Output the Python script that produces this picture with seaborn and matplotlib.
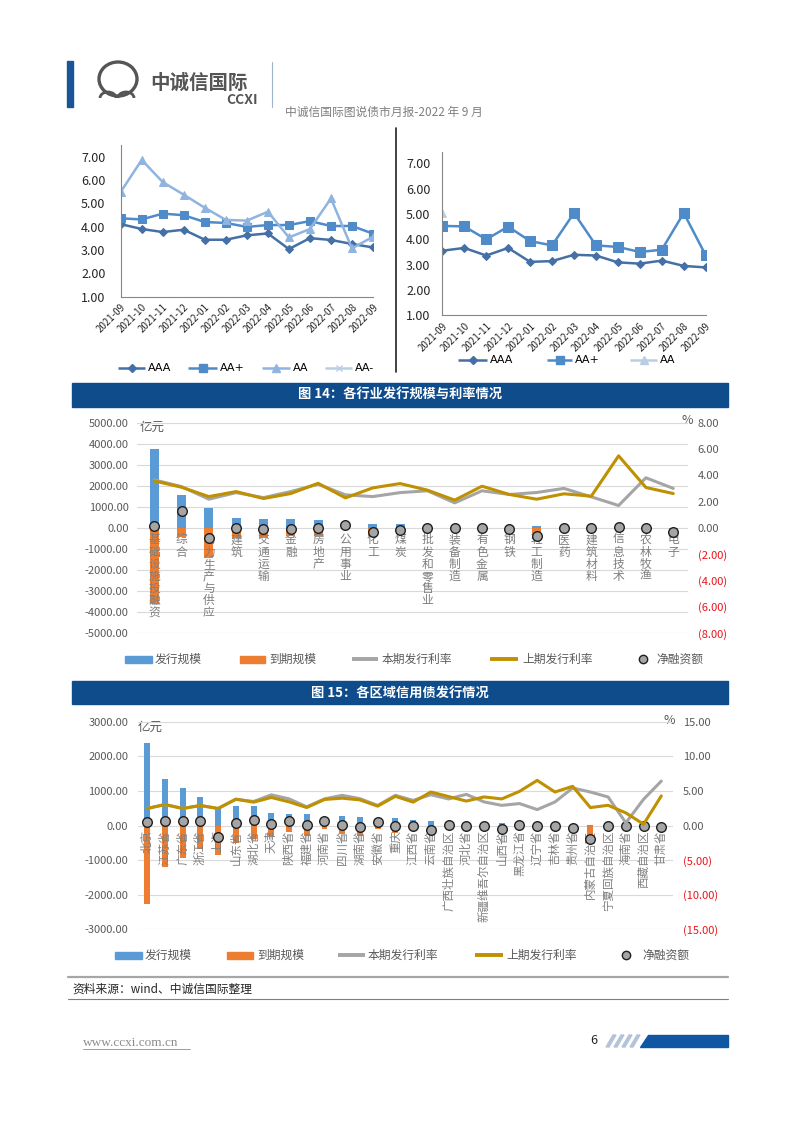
import numpy as np
import pandas as pd
import matplotlib
matplotlib.use("Agg")
import matplotlib.pyplot as plt
import matplotlib.transforms as mtransforms
from matplotlib.patches import Rectangle, Polygon, Ellipse, Arc
import seaborn as sns

sns.set_style("white")
plt.rcParams['font.family'] = ['Noto Sans CJK SC', 'DejaVu Sans']
plt.rcParams['axes.unicode_minus'] = False

# ---------------- data ----------------
months = ['2021-09', '2021-10', '2021-11', '2021-12', '2022-01', '2022-02', '2022-03',
          '2022-04', '2022-05', '2022-06', '2022-07', '2022-08', '2022-09']

# top-left chart
tl_aaa = [4.11, 3.90, 3.77, 3.87, 3.44, 3.44, 3.63, 3.71, 3.04, 3.51, 3.43, 3.26, 3.11]
tl_aap = [4.36, 4.31, 4.56, 4.49, 4.20, 4.16, 3.99, 4.07, 4.07, 4.24, 4.03, 4.03, 3.70]
tl_aa = [5.49, 6.86, 5.91, 5.37, 4.81, 4.29, 4.26, 4.64, 3.54, 3.90, 5.21, 3.07, 3.57]

# top-right chart
tr_aaa = [3.55, 3.66, 3.36, 3.66, 3.11, 3.14, 3.39, 3.36, 3.09, 3.04, 3.16, 2.95, 2.89]
tr_aap = [4.53, 4.51, 4.00, 4.50, 3.93, 3.76, 5.04, 3.76, 3.70, 3.50, 3.59, 5.04, 3.37]
tr_aa = [5.03] + [np.nan] * 12

# 图14
ind_names = ['基础设施投融资', '综合', '电力生产与供应', '建筑', '交通运输', '金融', '房地产',
             '公用事业', '化工', '煤炭', '批发和零售业', '装备制造', '有色金属', '钢铁',
             '轻工制造', '医药', '建筑材料', '信息技术', '农林牧渔', '电子']
ind_issue = [3750, 1540, 950, 460, 430, 400, 370, 200, 180, 170, 20, 20, 30, 40, 80, 20, 20, 20, 10, 10]
ind_mature = [-3640, -420, -1430, -480, -480, -400, -370, -50, -370, -270, -30, 0, -60, -90,
              -450, -50, -10, 0, -20, -200]
ind_net = [110, 810, -460, 0, -60, -60, -20, 150, -190, -100, -15, 15, -30, -50, -365, -30,
           15, 50, -15, -190]
ind_rate_now = [3.65, 3.14, 2.18, 2.68, 2.30, 2.76, 3.32, 2.51, 2.38, 2.68, 2.82, 1.90, 2.82,
                2.54, 2.69, 3.00, 2.36, 1.70, 3.81, 3.00]
ind_rate_prev = [3.57, 3.09, 2.38, 2.76, 2.23, 2.61, 3.39, 2.28, 3.04, 3.37, 2.87, 2.11, 3.17,
                 2.54, 2.18, 2.59, 2.41, 5.48, 3.07, 2.61]

# 图15
reg_names = ['北京', '江苏省', '广东省', '浙江省', '上海', '山东省', '湖北省', '天津', '陕西省',
             '福建省', '河南省', '四川省', '湖南省', '安徽省', '重庆', '江西省', '云南省',
             '广西壮族自治区', '河北省', '新疆维吾尔自治区', '山西省', '黑龙江省', '辽宁省',
             '吉林省', '贵州省', '内蒙古自治区', '宁夏回族自治区', '海南省', '西藏自治区', '甘肃省']
reg_issue = [2390, 1330, 1070, 810, 520, 560, 560, 350, 320, 320, 250, 270, 250, 200, 230, 170,
             130, 30, 20, 20, 60, 20, 10, 10, 10, 10, 0, 0, 0, 0]
reg_mature = [-2280, -1195, -935, -675, -850, -500, -390, -310, -185, -300, -115, -260, -300,
              -110, -230, -170, -260, -10, -40, -20, -160, -10, -30, -30, -80, -410, 0, 0, 0, -50]
reg_net = [110, 135, 135, 135, -330, 60, 170, 40, 135, 20, 135, 10, -50, 90, 0, 0, -130, 20,
           -20, 0, -100, 10, -20, -20, -70, -400, 0, 0, 0, -50]
reg_rate_now = [2.46, 3.03, 2.46, 2.89, 2.46, 3.80, 3.47, 4.43, 3.85, 2.70, 3.85, 4.36, 3.88,
                2.90, 4.36, 3.63, 4.45, 3.84, 4.50, 3.41, 2.91, 3.17, 2.30, 3.40, 5.42, 4.84,
                4.12, 0.38, 3.79, 6.42]
reg_rate_prev = [2.46, 3.03, 2.46, 2.89, 2.46, 3.80, 3.37, 4.05, 3.42, 2.60, 3.76, 3.95, 3.70,
                 2.80, 4.22, 3.38, 4.84, 4.18, 3.53, 4.13, 3.84, 4.93, 6.52, 4.84, 5.66, 2.59,
                 2.92, 1.82, 0.19, 4.27]

# ---------------- colours ----------------
C_AAA, C_AAP, C_AA, C_AAM = '#4470a6', '#4f8ac9', '#8fb4e0', '#b9cde5'
C_BLUE, C_ORANGE, C_GRAY, C_GOLD = '#5b9bd5', '#ed7d31', '#a5a5a5', '#bf9000'
C_TICK = '#595959'
NAVY = '#0f4c8c'

W, H = 802, 1133
fig = plt.figure(figsize=(W / 100, H / 100), dpi=100)
fig.patch.set_facecolor('white')


def px_axes(x0, y0, x1, y1):
    a = fig.add_axes([x0 / W, 1 - y1 / H, (x1 - x0) / W, (y1 - y0) / H])
    a.set_facecolor('none')
    return a


# page layer for decoration
page = fig.add_axes([0, 0, 1, 1])
page.set_xlim(0, W)
page.set_ylim(H, 0)
page.axis('off')

# header
page.add_patch(Rectangle((67, 61), 6, 46, color='#1b5496'))
page.add_patch(Ellipse((118, 79), 38, 34, fill=False, ec='#555555', lw=2.4))
page.add_patch(Arc((108, 98), 16, 12, theta1=180, theta2=360, ec='#555555', lw=2))
page.add_patch(Arc((126, 98), 16, 12, theta1=180, theta2=360, ec='#555555', lw=2))
page.text(150, 83, '中诚信国际', fontsize=14, color='#555555', va='center', fontweight='bold')
page.text(258, 100, 'CCXI', fontsize=10, color='#555555', va='center', ha='right',
          fontweight='bold')
page.plot([272, 272], [62, 107], color='#9fb4cc', lw=0.8)
page.text(285, 112, '中诚信国际图说债市月报-2022 年 9 月', fontsize=8.5, color='#7f7f7f',
          va='center')

# divider between top charts
page.plot([396, 396], [128, 372], color='#222222', lw=1.2)


def top_chart(ax, series, ytop, pad):
    for vals, col, mk, ms in series:
        sns.lineplot(x=np.arange(13), y=vals, ax=ax, color=col, marker=mk, markersize=ms,
                     markeredgecolor=col, linewidth=1.8, legend=False)
    ax.set_xlim(0, 12)
    ax.set_ylim(1, ytop)
    ax.set_yticks(range(1, 8))
    ax.set_yticklabels([f'{v:.2f}' for v in range(1, 8)], fontsize=9)
    ax.set_xticks(range(13))
    ax.set_xticklabels(months, rotation=45, ha='right', va='top', rotation_mode='anchor',
                       fontsize=7)
    ax.tick_params(axis='y', length=0, pad=pad)
    ax.tick_params(axis='x', length=3, color='#868686', pad=1)
    for s in ['top', 'right']:
        ax.spines[s].set_visible(False)
    for s in ['left', 'bottom']:
        ax.spines[s].set_color('#868686')
        ax.spines[s].set_linewidth(0.8)
    ax.set_xlabel('')
    ax.set_ylabel('')


ax_tl = px_axes(120.7, 145, 373, 296.7)
top_chart(ax_tl, [(tl_aaa, C_AAA, 'D', 4.5), (tl_aap, C_AAP, 's', 6), (tl_aa, C_AA, '^', 6)],
          7.5, 11)

ax_tr = px_axes(442.3, 151.7, 705.7, 315.3)
top_chart(ax_tr, [(tr_aaa, C_AAA, 'D', 4.5), (tr_aap, C_AAP, 's', 6.5), (tr_aa, C_AAM, '^', 6)],
          7.46, 8.5)


def legend_line(x0, x1, y, col, mk, ms, label, lw=1.8, fs=8):
    page.plot([x0, x1], [y, y], color=col, lw=lw, solid_capstyle='butt')
    if mk:
        page.plot([(x0 + x1) / 2], [y], marker=mk, color=col, markersize=ms, mec=col)
    page.text(x1 + 3, y, label, fontsize=fs, va='center', color='#000000',
              family=['DejaVu Sans'])


legend_line(118, 145, 368, C_AAA, 'D', 4.5, 'AAA')
legend_line(188, 217, 368, C_AAP, 's', 6, 'AA+')
legend_line(262, 290, 368, C_AA, '^', 6, 'AA')
legend_line(325, 352, 368, C_AAM, 'x', 5, 'AA-')

legend_line(458, 487, 360, C_AAA, 'D', 4.5, 'AAA')
legend_line(547, 572, 360, C_AAP, 's', 6, 'AA+')
legend_line(630, 657, 360, C_AAM, '^', 6, 'AA')


def section_bar(y0, y1, title):
    page.add_patch(Rectangle((72, y0), 656, y1 - y0, color=NAVY))
    page.text(400, (y0 + y1) / 2, title, color='white', fontsize=9.5, fontweight='bold',
              ha='center', va='center')


def combo_chart(box, names, issue, mature, net, now, prev, lim, rlim, step, rstep,
                lpad, rpad, label_mode):
    ax = px_axes(*box)
    n = len(names)
    x = np.arange(n)
    sns.barplot(x=x, y=issue, native_scale=True, width=0.33, color=C_BLUE, saturation=1,
                linewidth=0, errorbar=None, ax=ax)
    sns.barplot(x=x, y=mature, native_scale=True, width=0.33, color=C_ORANGE, saturation=1,
                linewidth=0, errorbar=None, ax=ax)
    sns.scatterplot(x=x, y=net, ax=ax, s=48, color=C_GRAY, edgecolor='#1f1f1f',
                    linewidth=1.0, zorder=6, legend=False)
    ax.set_ylim(-lim, lim)
    ticks = np.arange(-lim, lim + 1, step)
    ax.set_yticks(ticks)
    ax.set_yticklabels([f'{t:.2f}' for t in ticks], fontsize=8, color=C_TICK)
    ax.tick_params(axis='y', length=0, pad=lpad)
    ax.set_xticks([])
    ax.grid(axis='y', color='#d9d9d9', lw=0.8)
    ax.set_axisbelow(True)
    for s in ax.spines.values():
        s.set_visible(False)
    ax.set_xlabel('')
    ax.set_ylabel('')

    rx = ax.twinx()
    rx.set_facecolor('none')
    sns.lineplot(x=x, y=now, ax=rx, color=C_GRAY, linewidth=2.2, legend=False)
    sns.lineplot(x=x, y=prev, ax=rx, color=C_GOLD, linewidth=2.2, legend=False)
    rx.set_ylim(-rlim, rlim)
    rt = np.arange(-rlim, rlim + 0.01, rstep)
    rx.set_yticks(rt)
    rx.set_yticklabels([f'{t:.2f}' if t >= 0 else f'({-t:.2f})' for t in rt], fontsize=8)
    for lab, t in zip(rx.get_yticklabels(), rt):
        lab.set_color('#e8141b' if t < 0 else C_TICK)
    rx.tick_params(axis='y', length=0, pad=rpad)
    for s in rx.spines.values():
        s.set_visible(False)
    rx.set_ylabel('')

    # category labels
    for i, name in enumerate(names):
        if label_mode == 'stack':
            for j, ch in enumerate(name):
                tr = mtransforms.offset_copy(ax.transData, fig=fig, x=0,
                                             y=-(8.6 + j * 8.8), units='points')
                ax.text(i, 0, ch, transform=tr, ha='center', va='center', fontsize=8.5,
                        color='#7f7f7f', zorder=5)
        else:
            tr = mtransforms.offset_copy(ax.transData, fig=fig, x=0, y=-3.5, units='points')
            ax.text(i, 0, name, transform=tr, rotation=90, ha='center', va='top',
                    fontsize=8.3, color='#7f7f7f', zorder=5)
    return ax, rx


section_bar(383, 407, '图 14：各行业发行规模与利率情况')
ax14, rx14 = combo_chart((137, 422.7, 688, 633), ind_names, ind_issue, ind_mature, ind_net,
                         ind_rate_now, ind_rate_prev, 5000, 8, 1000, 2, 6, 7, 'stack')
ax14.set_xlim(-0.63, 19.54)
page.text(140, 427, '亿元', fontsize=9, color=C_TICK, va='center')
page.text(682, 421, '%', fontsize=9, color=C_TICK, va='center')

section_bar(681, 704, '图 15：各区域信用债发行情况')
ax15, rx15 = combo_chart((138, 721.7, 673, 929.3), reg_names, reg_issue, reg_mature, reg_net,
                         reg_rate_now, reg_rate_prev, 3000, 15, 1000, 5, 7, 7, 'rot')
ax15.set_xlim(-0.52, 29.66)
page.text(138, 727, '亿元', fontsize=9, color=C_TICK, va='center')
page.text(664, 720, '%', fontsize=9, color=C_TICK, va='center')


def combo_legend(y, xs):
    (b0, b1, bt), (o0, o1, ot), (g0, g1, gt), (d0, d1, dt), (cx, ct) = xs
    page.add_patch(Rectangle((b0, y - 3.5), b1 - b0, 7, color=C_BLUE))
    page.text(bt, y, '发行规模', fontsize=8.5, color=C_TICK, va='center')
    page.add_patch(Rectangle((o0, y - 3.5), o1 - o0, 7, color=C_ORANGE))
    page.text(ot, y, '到期规模', fontsize=8.5, color=C_TICK, va='center')
    page.plot([g0, g1], [y, y], color=C_GRAY, lw=2.8, solid_capstyle='butt')
    page.text(gt, y, '本期发行利率', fontsize=8.5, color=C_TICK, va='center')
    page.plot([d0, d1], [y, y], color=C_GOLD, lw=2.8, solid_capstyle='butt')
    page.text(dt, y, '上期发行利率', fontsize=8.5, color=C_TICK, va='center')
    page.plot([cx], [y], marker='o', markersize=6, color=C_GRAY, mec='#1f1f1f', mew=1)
    page.text(ct, y, '净融资额', fontsize=8.5, color=C_TICK, va='center')


combo_legend(659, [(125, 152, 155), (240, 265, 269), (352, 378, 382), (490, 518, 522),
                   (643, 656)])
combo_legend(955, [(115, 142, 145), (227, 253, 257), (338, 365, 368), (475, 503, 506),
                   (626, 642)])

# source + footer
page.plot([68, 728], [977, 977], color='#a6a6a6', lw=1.6)
page.text(72, 989, '资料来源：wind、中诚信国际整理', fontsize=8.5, color='#262626', va='center')
page.plot([68, 728], [999, 999], color='#7f7f7f', lw=0.8)

page.text(83, 1043, 'www.ccxi.com.cn', fontsize=9.5, color='#8c8c8c', va='center',
          family=['Liberation Serif'])
page.plot([83, 190], [1049, 1049], color='#8c8c8c', lw=0.6)
page.text(590, 1041, '6', fontsize=9, color='#262626', va='center')
for k in range(4):
    x0 = 606 + k * 8
    page.add_patch(Polygon([(x0, 1047), (x0 + 3, 1047), (x0 + 10, 1035), (x0 + 7, 1035)],
                           color='#b4c4d8'))
page.add_patch(Polygon([(640, 1047), (728, 1047), (728, 1035), (648, 1035)], color='#0f56a3'))

fig.savefig('out.png', dpi=100, facecolor='white')
